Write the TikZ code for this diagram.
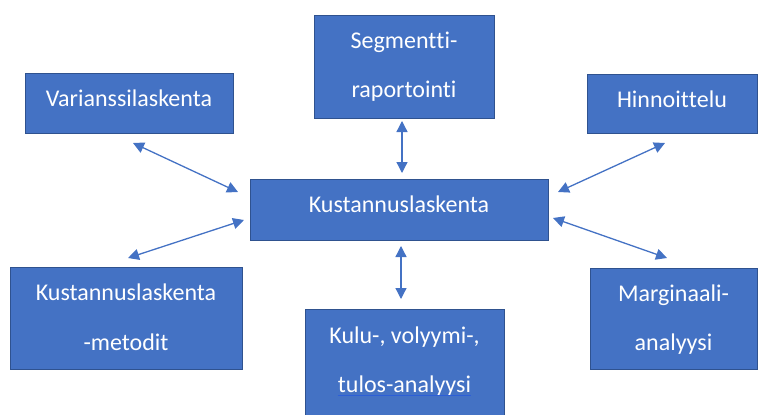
\documentclass[tikz,border=0pt]{standalone}
\usepackage{fontspec}
\setmainfont[RawFeature={-liga;-dlig;-calt;-clig}]{Carlito}
\usetikzlibrary{arrows.meta,calc}
\definecolor{boxfill}{HTML}{4472C4}
\definecolor{boxline}{HTML}{2F528F}
\definecolor{spell}{RGB}{45,95,215}
\newcommand{\nlg}{\kern0pt}
\begin{document}
\begin{tikzpicture}[x=1pt,y=-1pt,
  bx/.style={draw=boxline,line width=0.9pt,fill=boxfill,rectangle,inner sep=0pt},
  lbl/.style={anchor=base,text=white,inner sep=0pt,font=\fontsize{24}{28}\selectfont},
  arr/.style={{Triangle[length=11pt,width=11pt]}-{Triangle[length=11pt,width=11pt]},line width=1.3pt,draw=boxfill}]
\useasboundingbox (0,0) rectangle (758,415);
\clip (0,0) rectangle (758,415);
% boxes
\node[bx,minimum width=208pt,minimum height=60pt] (var) at (129,103) {};
\node[bx,minimum width=180pt,minimum height=103pt] (seg) at (404,66.5) {};
\node[bx,minimum width=170pt,minimum height=59pt] (hin) at (672,103.5) {};
\node[bx,minimum width=298pt,minimum height=61pt] (kus) at (399,209.5) {};
\node[bx,minimum width=232pt,minimum height=102pt] (met) at (126,318) {};
\node[bx,minimum width=199pt,minimum height=110pt] (kulu) at (404.5,364) {};
\node[bx,minimum width=167pt,minimum height=101pt] (mar) at (673.5,318.5) {};
% texts
\node[lbl] (tvar) at ($(var.center)+(0,3)$) {Varianssilaskenta};
\node[lbl] (tseg1) at ($(seg.center)+(0,-18.5)$) {Segment\nlg t\nlg i-};
\node[lbl] (tseg2) at ($(seg.center)+(0,30.5)$) {raportointi};
\node[lbl] (thin) at ($(hin.center)+(0,3.5)$) {Hinnoit\nlg t\nlg elu};
\node[lbl] (tkus) at ($(kus.center)+(0,3)$) {Kustannuslaskenta};
\node[lbl] (tmet1) at ($(met.center)+(0,-17.3)$) {Kustannuslaskenta};
\node[lbl] (tmet2) at ($(met.center)+(0,32)$) {-metodit};
\node[lbl] (tkulu1) at ($(kulu.center)+(0,-21)$) {Kulu-, volyymi-,};
\node[lbl] (tkulu2) at ($(kulu.center)+(0,28)$) {tulos-analyysi};
\node[lbl] (tmar1) at ($(mar.center)+(0,-17.5)$) {Marginaali-};
\node[lbl] (tmar2) at ($(mar.center)+(0,31.5)$) {analyysi};
% spell-check underline
\draw[spell,line width=0.9pt] ($(tkulu2.base west)+(0,3.5)$) -- ($(tkulu2.base east)+(0,3.5)$);
% connector end points
\coordinate (a1) at (133,143); \coordinate (b1) at (238,192);
\coordinate (a2) at (402,121); \coordinate (b2) at (402,173);
\coordinate (a3) at (665,143); \coordinate (b3) at (558,192);
\coordinate (a4) at (128,258); \coordinate (b4) at (244,220);
\coordinate (a5) at (401,299); \coordinate (b5) at (401,246);
\coordinate (a6) at (667,258); \coordinate (b6) at (553,218);
\draw[arr] (a1) -- (b1);
\draw[arr] (a2) -- (b2);
\draw[arr] (a3) -- (b3);
\draw[arr] (a4) -- (b4);
\draw[arr] (a5) -- (b5);
\draw[arr] (a6) -- (b6);
\end{tikzpicture}
\end{document}
